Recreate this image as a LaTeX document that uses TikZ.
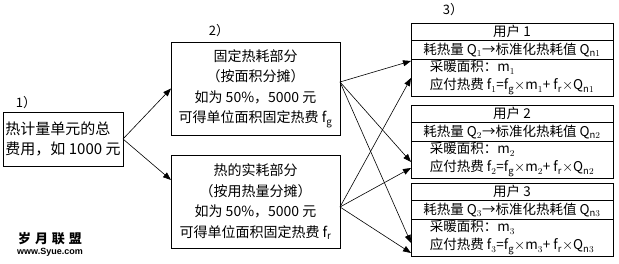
\documentclass[tikz,border=0pt]{standalone}
\usepackage{fontspec}
\setmainfont{Noto Sans CJK SC}
\newfontfamily\logofont[LetterSpace=30]{Noto Sans CJK SC}
\newfontfamily\urlfont{Liberation Sans}
\usetikzlibrary{arrows.meta,positioning}

\begin{document}
\begin{tikzpicture}[
    x=1pt, y=-1pt,
    box/.style={draw, line width=0.8pt, inner sep=2pt, outer sep=0pt, align=center,
                font=\fontsize{14}{20.5}\selectfont},
    urow/.style={draw, line width=0.8pt, inner sep=0pt, outer sep=0pt,
                 minimum width=202pt, minimum height=#1, align=center,
                 font=\fontsize{13.5}{18}\selectfont},
    lbl/.style={font=\fontsize{13}{13}\selectfont, inner sep=0pt},
    arr/.style={-{Triangle[length=8pt,width=6pt]}, line width=0.6pt},
]
  \useasboundingbox (0,0) rectangle (619,264);

  % total cost
  \node[box, minimum width=120pt, minimum height=54pt, align=left,
        font=\fontsize{15}{20}\selectfont] (cost) at (63,139)
        {热计量单元的总\\费用，如 1000 元};
  \node[lbl] (l1) at (26,103) {1）};

  % fixed and actual parts
  \node[box, minimum width=169pt, minimum height=93pt] (fixed) at (255.5,88.5)
        {固定热耗部分\\（按面积分摊）\\如为 50\%，5000 元\\可得单位面积固定热费 f$_\mathrm{g}$};
  \node[box, minimum width=169pt, minimum height=93pt] (real) at (255.5,201.5)
        {热的实耗部分\\（按用热量分摊）\\如为 50\%，5000 元\\可得单位面积固定热费 f$_\mathrm{r}$};
  \node[lbl] (l2) at (219,31) {2）};

  % users
  \node[lbl] (l3) at (453,10) {3）};
  \foreach \i/\y in {1/31.75, 2/113.75, 3/191.75} {
    \node[urow=17.5pt] (u\i a) at (512,\y) {用户 \i};
    \node[urow=18.5pt, below=0pt of u\i a] (u\i b)
          {耗热量 Q$_\i$→标准化热耗值 Q$_{\mathrm{n}\i}$};
    \node[urow=37pt, below=0pt of u\i b, align=left] (u\i c)
          {采暖面积：m$_\i$\\应付热费 f$_\i$=f$_\mathrm{g}$$\times$m$_\i$+ f$_\mathrm{r}$$\times$Q$_{\mathrm{n}\i}$};
  }

  \draw[arr] (cost.east) -- (fixed.west);
  \draw[arr] (cost.east) -- ([yshift=21.5pt]real.west);

  \draw[arr] ([yshift=6.5pt]fixed.east) -- ([yshift=16.5pt]u1c.west);
  \draw[arr] ([yshift=6.5pt]fixed.east) -- ([yshift=-2.5pt]u2c.west);
  \draw[arr] ([yshift=6.5pt]fixed.east) -- ([yshift=-5.5pt]u3c.west);
  \draw[arr] ([yshift=-5.5pt]real.east) -- ([yshift=-0.5pt]u1c.west);
  \draw[arr] ([yshift=-5.5pt]real.east) -- ([yshift=-8.5pt]u2c.west);
  \draw[arr] ([yshift=-5.5pt]real.east) -- ([yshift=-15.5pt]u3c.west);

  % logo
  \node[inner sep=0pt, font=\logofont\fontsize{13}{13}\selectfont\bfseries] (logo) at (50,239) {岁月联盟};
  \node[inner sep=0pt, font=\urlfont\fontsize{9}{9}\selectfont\bfseries, below=3pt of logo] (url) {www.Syue.com};
\end{tikzpicture}
\end{document}
